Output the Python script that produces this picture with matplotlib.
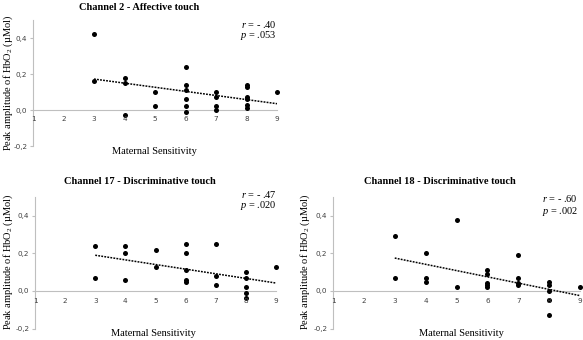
import matplotlib
matplotlib.use("Agg")
import matplotlib.pyplot as plt
import numpy as np

plt.rcParams["mathtext.fontset"] = "custom"
plt.rcParams["mathtext.rm"] = "Liberation Serif"
plt.rcParams["mathtext.it"] = "Liberation Serif:italic"
plt.rcParams["mathtext.bf"] = "Liberation Serif:bold"

# ---- data ----
titles = ["Channel 2 - Affective touch", "Channel 17 - Discriminative touch", "Channel 18 - Discriminative touch"]
r_texts = ["- .40", "- .47", "- .60"]
p_texts = [".053", ".020", ".002"]

ch2_x = [3, 3, 4, 4, 4, 5, 5, 6, 6, 6, 6, 6, 6, 7, 7, 7, 7, 8, 8, 8, 8, 8, 8, 9]
ch2_y = [0.42, 0.16, 0.18, 0.15, -0.03, 0.10, 0.02, 0.24, 0.14, 0.11, 0.06, 0.02, -0.01,
         0.10, 0.07, 0.02, 0.00, 0.14, 0.13, 0.07, 0.06, 0.03, 0.01, 0.10]

ch17_x = [3, 3, 4, 4, 4, 5, 5, 6, 6, 6, 6, 6, 7, 7, 7, 8, 8, 8, 8, 8, 9]
ch17_y = [0.24, 0.07, 0.24, 0.20, 0.06, 0.22, 0.13, 0.25, 0.20, 0.11, 0.06, 0.05,
          0.25, 0.08, 0.03, 0.10, 0.07, 0.02, -0.01, -0.04, 0.13]

ch18_x = [3, 3, 4, 4, 4, 5, 5, 6, 6, 6, 6, 6, 7, 7, 7, 7, 8, 8, 8, 8, 8, 9]
ch18_y = [0.29, 0.07, 0.20, 0.07, 0.05, 0.38, 0.02, 0.11, 0.09, 0.04, 0.03, 0.02,
          0.19, 0.07, 0.04, 0.03, 0.05, 0.03, 0.00, -0.05, -0.13, 0.02]

trend_x = [3, 9]
ch2_trend = [0.172, 0.035]
ch17_trend = [0.19, 0.042]
ch18_trend = [0.175, -0.025]

xticks = [1, 2, 3, 4, 5, 6, 7, 8, 9]
yticks = [-0.2, 0.0, 0.2, 0.4]
ytick_labels = ["-0,2", "0,0", "0,2", "0,4"]

panels = [
    (ch2_x, ch2_y, ch2_trend),
    (ch17_x, ch17_y, ch17_trend),
    (ch18_x, ch18_y, ch18_trend),
]

W, H = 583, 340
fig = plt.figure(figsize=(W / 100, H / 100), dpi=100)

def fx(px):
    return px / W

def fy(py):
    return 1 - py / H

# axes rectangles in pixel coords: left, right(x=9), top(0.5), bottom(-0.2)
rects = [(33, 277, 20, 146), (35, 276, 197, 328.5), (333, 580, 197, 328.5)]
title_pos = [(139, 8), (140, 182), (440, 182)]
rp_pos = [(277, 24, 36), (277, 194, 205), (578, 199, 211)]
xlabel_pos = [(154, 152), (153, 334), (461, 334)]
ylabel_pos = [(8, 83), (8, 262), (305, 262)]

serif = "Liberation Serif"
gray = "#bfbfbf"

for i, (xs, ys, tr) in enumerate(panels):
    l, r, t, b = rects[i]
    ax = fig.add_axes([fx(l), fy(b), (r - l) / W, (b - t) / H])
    ax.set_xlim(1, 9)
    ax.set_ylim(-0.2, 0.5)
    ax.scatter(xs, ys, s=13, color="black", zorder=3, clip_on=False, linewidths=0)
    ax.plot(trend_x, tr, linestyle=(0, (1.2, 0.8)), color="black", lw=1.1, zorder=2)
    for s in ["top", "right", "bottom"]:
        ax.spines[s].set_visible(False)
    ax.spines["left"].set_color(gray)
    ax.spines["left"].set_linewidth(0.8)
    ax.axhline(0, color=gray, lw=0.8, zorder=1, clip_on=False)
    ax.set_yticks(yticks)
    ax.set_yticklabels(ytick_labels, fontsize=5.2, color="#404040")
    ax.tick_params(axis="y", length=2, color=gray, pad=2)
    ax.set_xticks([])
    for xv in xticks:
        ax.text(xv, -0.035, str(xv), ha="center", va="top", fontsize=5.2, color="#404040")
    ax.patch.set_visible(False)

    tx, ty = title_pos[i]
    fig.text(fx(tx), fy(ty), titles[i], ha="center", va="center", fontsize=7.5,
             fontweight="bold", family=serif)
    rx, ry, py_ = rp_pos[i]
    fig.text(fx(rx), fy(ry), "$\\it{r}$ = " + r_texts[i], ha="right", va="center",
             fontsize=7.5, family=serif)
    fig.text(fx(rx), fy(py_), "$\\it{p}$ = " + p_texts[i], ha="right", va="center",
             fontsize=7.5, family=serif)
    lx, ly = xlabel_pos[i]
    fig.text(fx(lx), fy(ly), "Maternal Sensitivity", ha="center", va="center",
             fontsize=7.5, family=serif)
    yx, yy = ylabel_pos[i]
    fig.text(fx(yx), fy(yy), "Peak amplitude of HbO$_2$ (µMol)", ha="center", va="center",
             rotation=90, fontsize=7.5, family=serif)

fig.savefig("out.png", dpi=100)
